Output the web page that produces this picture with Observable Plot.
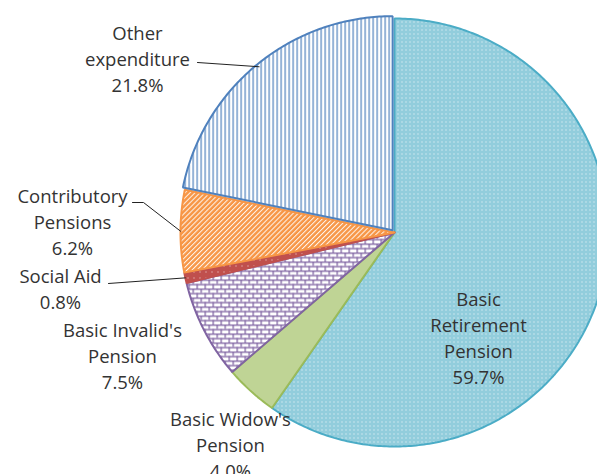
<!DOCTYPE html>
<html>
<head>
<meta charset="utf-8">
<script src="https://cdn.jsdelivr.net/npm/d3@7"></script>
<script src="https://cdn.jsdelivr.net/npm/@observablehq/plot@0.6"></script>
<style>
  html, body { margin: 0; padding: 0; background: #fff; }
  #chart svg { display: block; }
</style>
</head>
<body>
<div id="chart"></div>
<script>
// ---- data ----
const categories = ["Basic Retirement Pension", "Basic Widow's Pension", "Basic Invalid's Pension", "Social Aid", "Contributory Pensions", "Other expenditure"];
const shares = [59.7, 4.0, 7.5, 0.8, 6.2, 21.8];
const labelLines = [["Basic", "Retirement", "Pension"], ["Basic Widow's", "Pension"], ["Basic Invalid's", "Pension"], ["Social Aid"], ["Contributory", "Pensions"], ["Other", "expenditure"]];

// ---- styles / layout (not data) ----
const W = 597, H = 474;
const cx = 394, cy = 232, R = 214;
const strokeColors = ["#4bacc6", "#9bbb59", "#8064a2", "#c0504d", "#f79646", "#4f81bd"];
const patternIds = ["pRet", "pWid", "pInv", "pSoc", "pCon", "pOth"];
const explode = [0, 0, 0, 0, 0, 3];
const labelPos = [[478, 336], [230, 443], [122, 354], [60, 287], [72, 220], [137, 57]];
const leaderStart = [null, null, null, [[108, 283]], [[132, 202], [143, 202]], [[197, 62]]];

const arcs = d3.pie().sort(null).value(d => d)(shares);

function pt(a, r, ox, oy) { return [ox + r * Math.sin(a), oy - r * Math.cos(a)]; }

const marks = [];
arcs.forEach((a, i) => {
  const mid = (a.startAngle + a.endAngle) / 2;
  const [ox, oy] = pt(mid, explode[i], cx, cy);
  const n = Math.max(4, Math.ceil((a.endAngle - a.startAngle) * 80));
  const poly = [[ox, oy]];
  for (let k = 0; k <= n; k++) {
    const t = a.startAngle + (a.endAngle - a.startAngle) * k / n;
    poly.push(pt(t, R, ox, oy));
  }
  poly.push([ox, oy]);
  marks.push(Plot.line(poly, {x: d => d[0], y: d => d[1], fill: `url(#${patternIds[i]})`, stroke: strokeColors[i], strokeWidth: 2, strokeLinejoin: "miter", curve: "linear"}));
});

// leader lines
arcs.forEach((a, i) => {
  if (!leaderStart[i]) return;
  const mid = (a.startAngle + a.endAngle) / 2;
  const pts = leaderStart[i].concat([pt(mid, R, cx, cy)]);
  marks.push(Plot.line(pts, {x: d => d[0], y: d => d[1], stroke: "#222", strokeWidth: 1}));
});

// labels
const labelData = categories.map((c, i) => ({
  text: labelLines[i].join("\n") + "\n" + shares[i].toFixed(1) + "%",
  x: labelPos[i][0], y: labelPos[i][1]
}));
marks.push(Plot.text(labelData, {x: "x", y: "y", text: "text", fontSize: 18.5, lineHeight: 1.41, fill: "#333333", textAnchor: "middle", frameAnchor: "middle"}));

const svg = Plot.plot({
  width: W, height: H,
  marginTop: 0, marginBottom: 0, marginLeft: 0, marginRight: 0,
  x: {domain: [0, W], range: [0, W], axis: null},
  y: {domain: [0, H], range: [0, H], axis: null},
  style: {fontFamily: "'Open Sans', sans-serif", background: "#fff"},
  marks
});

const defs = `
<defs>
  <pattern id="pRet" width="4" height="4" patternUnits="userSpaceOnUse">
    <rect width="4" height="4" fill="#92cddc"/>
    <rect x="1" y="1" width="1" height="1" fill="#ffffff" fill-opacity="0.9"/>
  </pattern>
  <pattern id="pSoc" width="6" height="6" patternUnits="userSpaceOnUse">
    <rect width="6" height="6" fill="#c0504d"/>
    <rect x="1" y="1" width="1" height="1" fill="#ffffff" fill-opacity="0.8"/>
  </pattern>
  <pattern id="pOth" width="4" height="4" patternUnits="userSpaceOnUse">
    <rect width="4" height="4" fill="#ffffff"/>
    <rect x="0" y="0" width="1.2" height="4" fill="#4f81bd"/>
  </pattern>
  <pattern id="pCon" width="3.5" height="3.5" patternUnits="userSpaceOnUse" patternTransform="rotate(45)">
    <rect width="3.5" height="3.5" fill="#f79646"/>
    <rect x="0" y="0" width="1" height="3.5" fill="#ffffff" fill-opacity="0.9"/>
  </pattern>
  <pattern id="pInv" width="8" height="9" patternUnits="userSpaceOnUse">
    <rect width="8" height="9" fill="#ffffff"/>
    <rect x="0" y="0" width="8" height="1.3" fill="#8064a2"/>
    <rect x="0" y="4.5" width="8" height="1.3" fill="#8064a2"/>
    <rect x="0" y="0" width="1.3" height="4.5" fill="#8064a2"/>
    <rect x="4" y="4.5" width="1.3" height="4.5" fill="#8064a2"/>
  </pattern>
  <pattern id="pWid" width="2" height="2" patternUnits="userSpaceOnUse">
    <rect width="2" height="2" fill="#e2ecd0"/>
    <rect x="0" y="0" width="1" height="1" fill="#9bbb59"/>
    <rect x="1" y="1" width="1" height="1" fill="#9bbb59"/>
  </pattern>
</defs>`;
svg.insertAdjacentHTML("afterbegin", defs);
document.getElementById("chart").appendChild(svg);
</script>
</body>
</html>
